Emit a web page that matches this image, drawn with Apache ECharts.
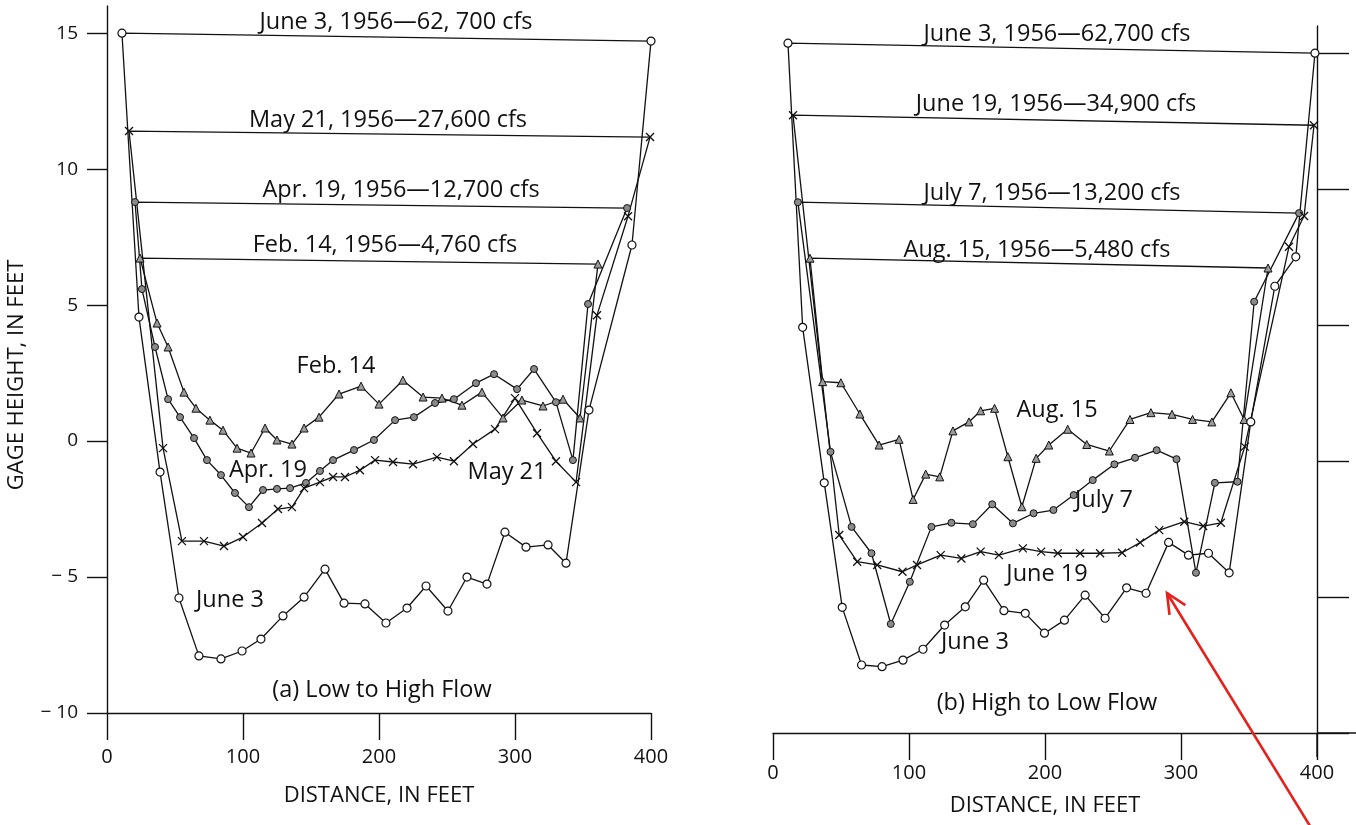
<!DOCTYPE html>
<html>
<head>
<meta charset="utf-8">
<script src="https://cdn.jsdelivr.net/npm/echarts@6/dist/echarts.min.js"></script>
<style>
html,body{margin:0;padding:0;background:#fff;}
#chart{width:1356px;height:825px;}
</style>
</head>
<body>
<div id="chart"></div>
<script>
// ---- Data (distance ft, gage height ft) ----
// Panel (a) Low to High Flow
const aFeb14 = [[24.3,6.73],[36.8,4.34],[44.9,3.46],[56.6,1.80],[65.4,1.21],[75.7,0.77],[85.3,0.40],[95.6,-0.26],[105.9,-0.44],[116.2,0.48],[125.0,0.04],[136.0,-0.11],[144.9,0.48],[155.9,0.88],[170.6,1.73],[186.8,2.02],[200.0,1.36],[217.6,2.24],[232.4,1.62],[246.3,1.58],[261.0,1.32],[275.7,1.80],[291.2,0.85],[305.1,1.51],[320.6,1.29],[335.3,1.54],[347.8,0.85],[361.0,6.51]];
const aApr19 = [[20.6,8.79],[25.7,5.59],[35.3,3.46],[44.9,1.54],[53.7,0.88],[64.0,0.11],[73.5,-0.70],[83.8,-1.25],[94.1,-1.91],[104.4,-2.43],[114.7,-1.80],[125.0,-1.76],[134.6,-1.73],[146.3,-1.54],[156.6,-1.10],[166.2,-0.70],[181.6,-0.33],[196.3,0.04],[211.8,0.77],[225.7,0.88],[241.2,1.40],[255.1,1.54],[271.3,2.13],[284.6,2.46],[301.5,1.91],[314.0,2.65],[330.1,1.43],[342.6,-0.70],[353.7,5.04],[382.4,8.57]];
const aMay21 = [[16.2,11.40],[41.2,-0.26],[55.1,-3.68],[71.3,-3.68],[86.0,-3.86],[100.0,-3.53],[114.0,-3.01],[125.7,-2.50],[136.0,-2.43],[144.9,-1.73],[156.6,-1.51],[166.2,-1.32],[175.0,-1.32],[186.0,-1.07],[197.1,-0.70],[210.3,-0.77],[225.0,-0.85],[242.6,-0.59],[255.1,-0.74],[269.1,-0.11],[285.3,0.44],[300.0,1.58],[316.2,0.29],[330.1,-0.74],[344.9,-1.51],[360.3,4.63],[383.1,8.27],[399.3,11.18]];
const aJune3 = [[11.0,15.00],[23.5,4.56],[39.0,-1.14],[52.9,-5.77],[67.6,-7.90],[83.8,-8.01],[99.3,-7.72],[113.2,-7.28],[129.4,-6.43],[144.9,-5.74],[160.3,-4.71],[174.3,-5.96],[189.7,-5.99],[205.1,-6.69],[220.6,-6.14],[234.6,-5.33],[250.7,-6.25],[264.7,-5.00],[279.4,-5.26],[292.6,-3.35],[308.1,-3.90],[324.3,-3.82],[337.5,-4.49],[354.4,1.14],[386.0,7.21],[400.0,14.71]];
// Panel (b) High to Low Flow
const bJune3 = [[11.0,15.37],[21.8,4.92],[37.7,-0.80],[50.9,-5.38],[65.1,-7.50],[80.2,-7.56],[95.6,-7.32],[110.3,-6.92],[126.2,-6.03],[141.4,-5.36],[154.9,-4.38],[169.8,-5.50],[185.5,-5.60],[199.6,-6.33],[214.3,-5.85],[229.5,-4.93],[244.2,-5.78],[260.0,-4.66],[274.3,-4.86],[290.9,-2.99],[305.5,-3.46],[320.2,-3.39],[335.4,-4.11],[351.3,1.44],[369.0,6.43],[384.4,7.51],[398.5,15.00]];
const bJune19 = [[14.7,12.72],[48.7,-2.72],[61.9,-3.70],[76.6,-3.82],[95.2,-4.07],[105.9,-3.82],[123.3,-3.46],[138.5,-3.58],[152.7,-3.33],[166.1,-3.46],[183.7,-3.21],[197.2,-3.33],[209.4,-3.39],[225.8,-3.39],[240.5,-3.39],[256.7,-3.37],[269.9,-3.00],[284.0,-2.54],[302.4,-2.23],[316.3,-2.39],[329.3,-2.27],[346.9,0.53],[379.4,7.88],[390.5,9.01],[397.8,12.35]];
const bJuly7 = [[18.3,9.52],[42.3,0.34],[57.8,-2.42],[72.4,-3.39],[86.6,-5.99],[100.6,-4.44],[116.5,-2.42],[131.2,-2.27],[147.0,-2.32],[161.2,-1.59],[176.4,-2.29],[191.6,-1.92],[206.2,-1.80],[221.1,-1.25],[235.1,-0.70],[251.0,-0.12],[266.2,0.12],[282.1,0.40],[296.7,0.07],[311.0,-4.11],[324.9,-0.80],[341.5,-0.76],[353.8,5.86],[386.8,9.12]];
const bAug15 = [[27.2,7.46],[36.5,2.92],[49.9,2.88],[63.9,1.73],[78.0,0.59],[92.7,0.80],[103.0,-1.41],[112.3,-0.48],[122.6,-0.58],[132.3,1.11],[144.1,1.44],[152.7,1.85],[162.9,1.94],[172.7,0.16],[183.0,-1.68],[193.5,0.10],[202.8,0.59],[216.7,1.17],[230.7,0.61],[247.3,0.37],[262.5,1.53],[277.9,1.78],[293.4,1.72],[308.5,1.53],[322.7,1.44],[336.7,2.51],[346.4,1.53],[364.0,7.10]];

const yTicks = [-10,-5,0,5,10,15];
const xTicks = [0,100,200,300,400];
const xTitle = 'DISTANCE, IN FEET';
const yTitle = 'GAGE HEIGHT, IN FEET';
const panelTitles = ['(a) Low to High Flow','(b) High to Low Flow'];
const surfaceLabelsA = ['June 3, 1956\u201462, 700 cfs','May 21, 1956\u201427,600 cfs','Apr. 19, 1956\u201412,700 cfs','Feb. 14, 1956\u20144,760 cfs'];
const surfaceLabelsB = ['June 3, 1956\u201462,700 cfs','June 19, 1956\u201434,900 cfs','July 7, 1956\u201413,200 cfs','Aug. 15, 1956\u20145,480 cfs'];
const curveLabelsA = ['Feb. 14','Apr. 19','May 21','June 3'];
const curveLabelsB = ['Aug. 15','July 7','June 19','June 3'];

// ---- Styles ----
const FONT = '"Open Sans", Lato, sans-serif';
const BLK = '#111';
const markers = {
  open:  {symbol:'circle', symbolSize:8, itemStyle:{color:'#fff', borderColor:BLK, borderWidth:1.2}},
  cross: {symbol:'path://M0,0L10,10M10,0L0,10', symbolSize:8, itemStyle:{color:'rgba(0,0,0,0)', borderColor:BLK, borderWidth:1.3}},
  dot:   {symbol:'circle', symbolSize:7, itemStyle:{color:'#8a8a8a', borderColor:BLK, borderWidth:1}},
  tri:   {symbol:'triangle', symbolSize:8, itemStyle:{color:'#9a9a9a', borderColor:BLK, borderWidth:1}}
};

function closed(arr){
  // profile points, then straight water-surface line back to the first point
  return arr.map(p => ({value:p})).concat([{value:arr[0], symbol:'none'}]);
}
function mk(name, arr, grid, m){
  return Object.assign({
    name, type:'line', xAxisIndex:grid, yAxisIndex:grid,
    data: closed(arr), showAllSymbol:true, clip:false,
    lineStyle:{color:BLK, width:1.3}, emphasis:{disabled:true}, z:3
  }, JSON.parse(JSON.stringify(m)));
}

function xAx(grid, gap, margin){
  return {gridIndex:grid, type:'value', min:0, max:400, interval:100,
    axisLine:{show:true, onZero:false, lineStyle:{color:BLK, width:1.4}},
    axisTick:{show:true, length:27, customValues:xTicks, lineStyle:{color:BLK, width:1.4}},
    axisLabel:{color:BLK, fontSize:20, fontFamily:FONT, margin:margin, customValues:xTicks},
    splitLine:{show:false},
    name:xTitle, nameLocation:'middle', nameGap:gap,
    nameTextStyle:{color:BLK, fontSize:22, fontFamily:FONT}};
}
function yAx(grid, pos){
  const left = pos === 'left';
  return {gridIndex:grid, type:'value', min:-10, max:16, position:pos,
    axisLine:{show:true, onZero:false, lineStyle:{color:BLK, width:1.4}},
    axisTick:{show:true, length: left ? 20 : 32, customValues:yTicks, lineStyle:{color:BLK, width:1.4}},
    axisLabel:{show:left, customValues:yTicks, color:BLK, fontSize:19, fontFamily:FONT, margin:29,
      formatter: v => v < 0 ? '\u2212 ' + Math.abs(v) : String(v)},
    splitLine:{show:false}};
}

function txt(t, x, y, size, rotation){
  return {type:'text', x, y, rotation: rotation || 0, z:10,
    style:{text:t, fill:BLK, font: size + 'px ' + FONT, textAlign:'center', textVerticalAlign:'middle'}};
}

// red annotation arrow
const tail = [1310, 826], tip = [1167, 593];
const dx = tail[0]-tip[0], dy = tail[1]-tip[1], L = Math.hypot(dx,dy);
const ux = dx/L, uy = dy/L, ang = 25*Math.PI/180, hl = 22;
function rot(a){ return [tip[0] + hl*(ux*Math.cos(a) - uy*Math.sin(a)), tip[1] + hl*(ux*Math.sin(a) + uy*Math.cos(a))]; }
const h1 = rot(ang), h2 = rot(-ang);

const S = 23.5, C = 23.5;
const graphics = [
  txt(yTitle, 17, 375, 22, Math.PI/2),
  txt(surfaceLabelsA[0], 396, 22, S), txt(surfaceLabelsA[1], 388, 120, S),
  txt(surfaceLabelsA[2], 401, 190, S), txt(surfaceLabelsA[3], 385, 245, S),
  txt(surfaceLabelsB[0], 1057, 34, S), txt(surfaceLabelsB[1], 1056, 104, S),
  txt(surfaceLabelsB[2], 1052, 193, S), txt(surfaceLabelsB[3], 1037, 250, S),
  txt(curveLabelsA[0], 336, 366, C), txt(curveLabelsA[1], 268, 470, C),
  txt(curveLabelsA[2], 507, 472, C), txt(curveLabelsA[3], 230, 600, C),
  txt(curveLabelsB[0], 1057, 410, C), txt(curveLabelsB[1], 1104, 500, C),
  txt(curveLabelsB[2], 1047, 574, C), txt(curveLabelsB[3], 975, 642, C),
  txt(panelTitles[0], 382, 690, C), txt(panelTitles[1], 1047, 703, C),
  // axis extensions of panel (b)
  {type:'line', z:5, shape:{x1:1317, y1:733, x2:1317, y2:757}, style:{stroke:BLK, lineWidth:1.4}},
  {type:'line', z:5, shape:{x1:1317, y1:733, x2:1356, y2:733}, style:{stroke:BLK, lineWidth:1.4}},
  {type:'polyline', z:20, shape:{points:[tail, tip]}, style:{stroke:'#e6201b', lineWidth:2.6, fill:null}},
  {type:'polyline', z:20, shape:{points:[h1, tip, h2]}, style:{stroke:'#e6201b', lineWidth:2.6, fill:null}}
];

const chart = echarts.init(document.getElementById('chart'), null, {renderer:'canvas'});
chart.setOption({
  backgroundColor:'#fff',
  animation:false,
  grid:[
    {left:107, top:6, width:544, height:707},
    {left:773, top:26, width:544, height:707}
  ],
  xAxis:[xAx(0, 72, 34), xAx(1, 62, 30)],
  yAxis:[yAx(0,'left'), yAx(1,'right')],
  series:[
    mk('Feb. 14', aFeb14, 0, markers.tri),
    mk('Apr. 19', aApr19, 0, markers.dot),
    mk('May 21', aMay21, 0, markers.cross),
    mk('June 3', aJune3, 0, markers.open),
    mk('Aug. 15', bAug15, 1, markers.tri),
    mk('July 7', bJuly7, 1, markers.dot),
    mk('June 19', bJune19, 1, markers.cross),
    mk('June 3 (b)', bJune3, 1, markers.open)
  ],
  graphic: graphics
});
</script>
</body>
</html>
